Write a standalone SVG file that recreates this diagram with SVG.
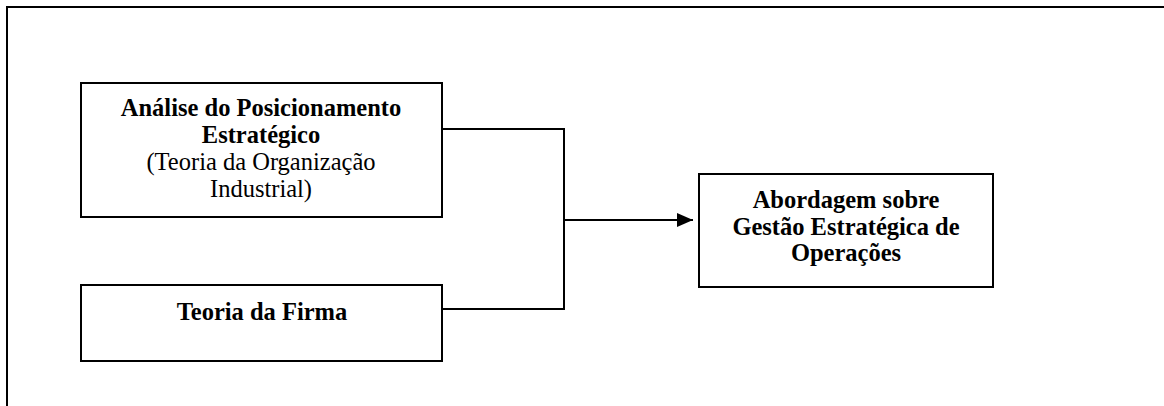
<svg xmlns="http://www.w3.org/2000/svg" width="1164" height="406" viewBox="0 0 1164 406">
  <style>
    .box { fill: #ffffff; stroke: #000000; stroke-width: 2; }
    .wire { fill: none; stroke: #000000; stroke-width: 2; }
    .t { font-family: "Liberation Serif", "Times New Roman", serif; font-size: 24.5px; fill: #000000; text-anchor: middle; }
    .b { font-weight: bold; }
  </style>
  <defs>
    <marker id="arrow" markerUnits="userSpaceOnUse" markerWidth="16" markerHeight="14" refX="16" refY="7" orient="auto">
      <path d="M0,0 L16,7 L0,14 Z" fill="#000000"/>
    </marker>
  </defs>
  <rect width="1164" height="406" fill="#ffffff"/>
  <!-- page frame: left and top rules -->
  <path d="M7,406 L7,7 L1164,7" fill="none" stroke="#000000" stroke-width="2"/>

  <g id="node-posicionamento">
    <rect class="box" x="81" y="83" width="361" height="134"/>
    <text class="t b" x="261" y="116">Análise do Posicionamento</text>
    <text class="t b" x="261" y="143">Estratégico</text>
    <text class="t" x="261" y="170">(Teoria da Organização</text>
    <text class="t" x="261" y="197">Industrial)</text>
  </g>

  <g id="node-firma">
    <rect class="box" x="81" y="285" width="361" height="76"/>
    <text class="t b" x="262" y="320">Teoria da Firma</text>
  </g>

  <g id="node-gestao">
    <rect class="box" x="699" y="174" width="294" height="113"/>
    <text class="t b" x="846" y="208">Abordagem sobre</text>
    <text class="t b" x="846" y="235">Gestão Estratégica de</text>
    <text class="t b" x="846" y="261">Operações</text>
  </g>

  <g id="connectors">
    <path class="wire" d="M442,129 L564,129 L564,309 L442,309"/>
    <path class="wire" d="M564,220 L693,220" marker-end="url(#arrow)"/>
  </g>
</svg>
